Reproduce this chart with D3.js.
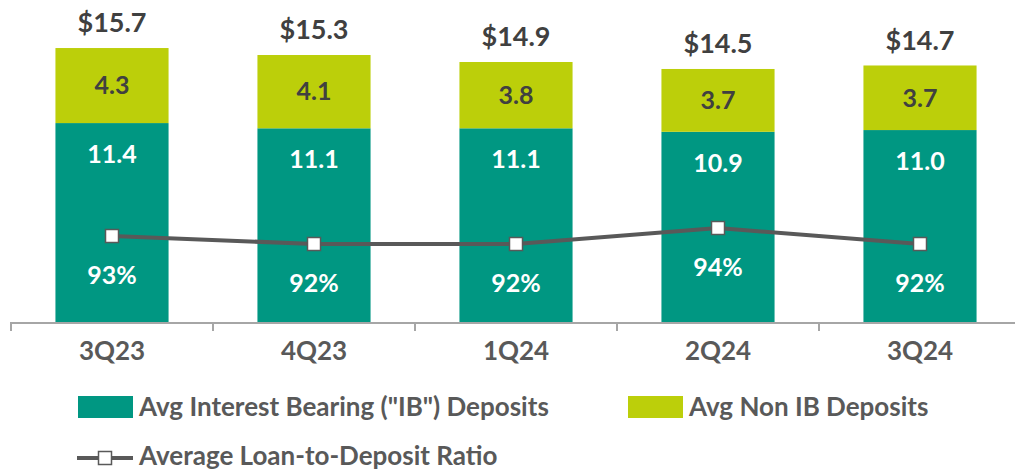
<!DOCTYPE html>
<html>
<head>
<meta charset="utf-8">
<script src="https://cdn.jsdelivr.net/npm/d3@7"></script>
<style>
  body { margin: 0; background: #fff; }
  svg { display: block; font-family: Lato, "Open Sans", sans-serif; font-weight: 700; }
</style>
</head>
<body>
<svg id="chart" width="1015" height="472"></svg>
<script>
const quarters = ['3Q23', '4Q23', '1Q24', '2Q24', '3Q24'];
const ibDeposits = [11.4, 11.1, 11.1, 10.9, 11.0];
const nonIbDeposits = [4.3, 4.1, 3.8, 3.7, 3.7];
const totals = [15.7, 15.3, 14.9, 14.5, 14.7];
const ldRatio = [93, 92, 92, 94, 92];

const teal = '#009782';
const lime = '#bccf0a';
const dark = '#404040';
const grey = '#595959';

const svg = d3.select('#chart');
const base = 322;

const x = d3.scaleBand()
  .domain(quarters)
  .range([11, 1021])
  .paddingInner(0.44)
  .paddingOuter(0.22);
const y = d3.scaleLinear().domain([0, 18]).range([base, base - 18 * 17.45]);
const y2 = d3.scaleLinear().domain([82.25, 122.25]).range([base, 2]);

const rows = quarters.map((q, i) => ({
  q, ib: ibDeposits[i], non: nonIbDeposits[i], total: totals[i], ratio: ldRatio[i]
}));

// bars
const g = svg.append('g');
g.selectAll('.ib').data(rows).join('rect')
  .attr('class', 'ib')
  .attr('x', d => x(d.q)).attr('width', x.bandwidth())
  .attr('y', d => y(d.ib)).attr('height', d => base - y(d.ib))
  .attr('fill', teal);
g.selectAll('.non').data(rows).join('rect')
  .attr('class', 'non')
  .attr('x', d => x(d.q)).attr('width', x.bandwidth())
  .attr('y', d => y(d.total)).attr('height', d => y(d.ib) - y(d.total))
  .attr('fill', lime);

const cx = d => x(d.q) + x.bandwidth() / 2;

// labels
g.selectAll('.lbl-non').data(rows).join('text')
  .attr('x', cx).attr('y', d => (y(d.total) + y(d.ib)) / 2)
  .attr('dy', '0.35em').attr('text-anchor', 'middle')
  .attr('font-size', 25).attr('fill', dark)
  .text(d => d.non.toFixed(1));
g.selectAll('.lbl-ib').data(rows).join('text')
  .attr('x', cx).attr('y', d => y(d.ib) + 31)
  .attr('dy', '0.35em').attr('text-anchor', 'middle')
  .attr('font-size', 25).attr('fill', '#fff')
  .text(d => d.ib.toFixed(1));
g.selectAll('.lbl-tot').data(rows).join('text')
  .attr('x', cx).attr('y', d => y(d.total) - 25)
  .attr('dy', '0.35em').attr('text-anchor', 'middle')
  .attr('font-size', 27).attr('fill', dark)
  .text(d => '$' + d.total.toFixed(1));

// axis
const step = x.step();
svg.append('line')
  .attr('x1', 11).attr('x2', 1015).attr('y1', base + 1).attr('y2', base + 1)
  .attr('stroke', '#a6a6a6').attr('stroke-width', 2);
svg.selectAll('.tick-b').data(quarters).join('line')
  .attr('x1', d => x(d) - step * 0.22).attr('x2', d => x(d) - step * 0.22)
  .attr('y1', base).attr('y2', base + 9)
  .attr('stroke', '#a6a6a6').attr('stroke-width', 2);
const xAxis = svg.append('g')
  .attr('transform', `translate(0,${base})`)
  .call(d3.axisBottom(x).tickSize(0).tickPadding(20));
xAxis.select('.domain').remove();
xAxis.selectAll('text')
  .attr('font-size', 26).attr('fill', grey)
  .attr('font-family', 'Lato, "Open Sans", sans-serif').attr('font-weight', 700);

// ratio line
const line = d3.line().x(cx).y(d => y2(d.ratio));
svg.append('path').datum(rows)
  .attr('d', line).attr('fill', 'none')
  .attr('stroke', grey).attr('stroke-width', 4);
svg.selectAll('.mk').data(rows).join('rect')
  .attr('x', d => cx(d) - 6.5).attr('y', d => y2(d.ratio) - 6.5)
  .attr('width', 13).attr('height', 13)
  .attr('fill', '#fff').attr('stroke', grey).attr('stroke-width', 1.5);
svg.selectAll('.lbl-r').data(rows).join('text')
  .attr('x', cx).attr('y', d => y2(d.ratio) + 39)
  .attr('dy', '0.35em').attr('text-anchor', 'middle')
  .attr('font-size', 25).attr('fill', '#fff')
  .text(d => d.ratio + '%');

// legend
const legend = svg.append('g').attr('font-size', 26).attr('fill', grey);
legend.append('rect').attr('x', 78).attr('y', 396).attr('width', 55).attr('height', 22).attr('fill', teal);
legend.append('text').attr('x', 139).attr('y', 407).attr('dy', '0.35em').text('Avg Interest Bearing ("IB") Deposits');
legend.append('rect').attr('x', 628).attr('y', 396).attr('width', 55).attr('height', 22).attr('fill', lime);
legend.append('text').attr('x', 689).attr('y', 407).attr('dy', '0.35em').text('Avg Non IB Deposits');
legend.append('line').attr('x1', 77).attr('x2', 133).attr('y1', 458).attr('y2', 458)
  .attr('stroke', grey).attr('stroke-width', 4);
legend.append('rect').attr('x', 98.5).attr('y', 451.5).attr('width', 13).attr('height', 13)
  .attr('fill', '#fff').attr('stroke', grey).attr('stroke-width', 1.5);
legend.append('text').attr('x', 139).attr('y', 456).attr('dy', '0.35em').text('Average Loan-to-Deposit Ratio');
</script>
</body>
</html>
